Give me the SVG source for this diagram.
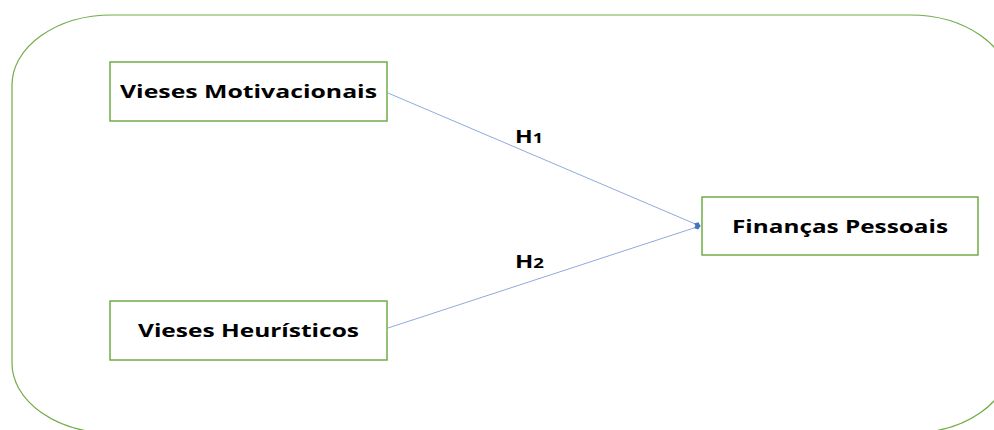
<svg xmlns="http://www.w3.org/2000/svg" width="994" height="430" viewBox="0 0 994 430">
<style>
.box{fill:#fff;stroke:#70AD47;stroke-width:1.5}
.lbl{font-family:"Open Sans","Liberation Sans",sans-serif;font-weight:bold;font-size:17px;fill:#000}
.h{font-family:"Open Sans","Liberation Sans",sans-serif;font-weight:bold;font-size:18px;fill:#000}
.conn{stroke:#8FAADC;stroke-width:1;fill:none}
</style>
<defs>
<marker id="dia" viewBox="0 0 10 10" refX="9" refY="5" markerWidth="7" markerHeight="7" markerUnits="userSpaceOnUse" orient="auto">
<path d="M0,5 L5,1 L10,5 L5,9 Z" fill="#4472C4"/>
</marker>
</defs>
<rect x="12" y="15" width="998" height="418" rx="100" ry="70" fill="none" stroke="#70AD47" stroke-width="1.2"/>
<g id="connectors">
<line class="conn" x1="388" y1="93" x2="700" y2="226" marker-end="url(#dia)"/>
<line class="conn" x1="388" y1="328" x2="700" y2="226" marker-end="url(#dia)"/>
<text class="h" x="515" y="143" textLength="28" lengthAdjust="spacingAndGlyphs">H<tspan font-size="14">1</tspan></text>
<text class="h" x="515" y="268" textLength="29" lengthAdjust="spacingAndGlyphs">H<tspan font-size="14">2</tspan></text>
</g>
<g id="n1">
<rect class="box" x="110" y="62" width="277" height="59"/>
<text class="lbl" x="120" y="98" textLength="257" lengthAdjust="spacingAndGlyphs">Vieses Motivacionais</text>
</g>
<g id="n2">
<rect class="box" x="110" y="301" width="277" height="59"/>
<text class="lbl" x="138" y="337" textLength="221" lengthAdjust="spacingAndGlyphs">Vieses Heurísticos</text>
</g>
<g id="n3">
<rect class="box" x="702" y="197" width="276" height="58"/>
<text class="lbl" x="732" y="233" textLength="216" lengthAdjust="spacingAndGlyphs">Finanças Pessoais</text>
</g>
</svg>
